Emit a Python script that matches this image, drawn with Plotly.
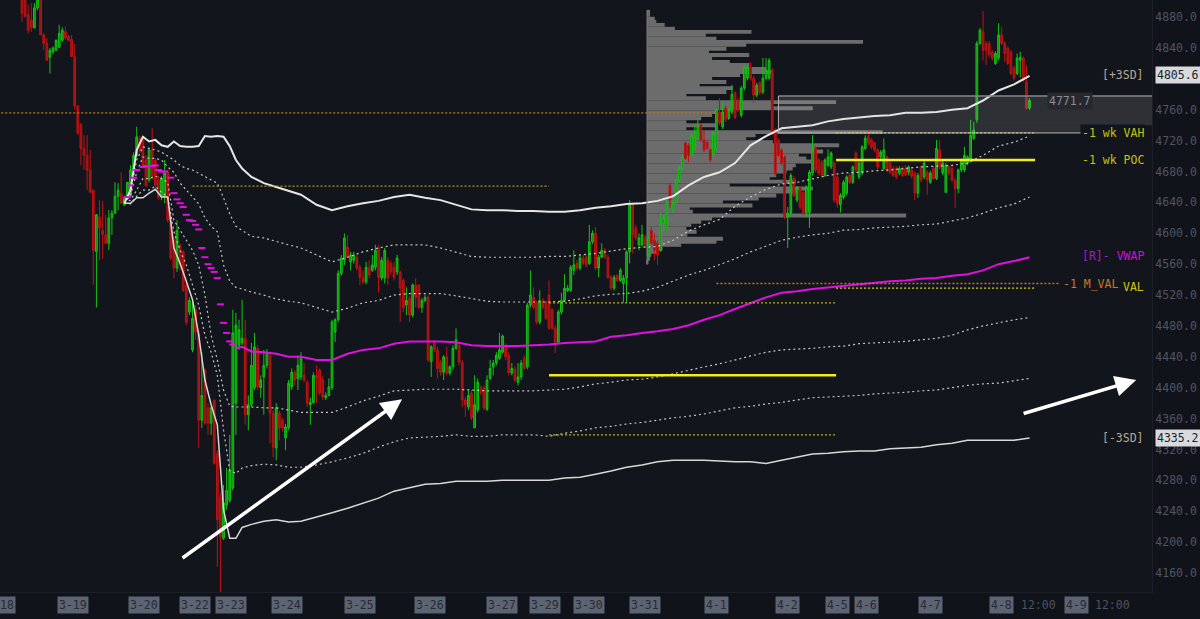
import plotly.graph_objects as go

# hourly candles (bar 0 is the first one on screen)
opens = [4902,4902,4883,4876,4866,4892,4905,4857,4846,4828,4835,4837,4841,4850,4861,4855,4851,4829,4765,4741,
4710,4701,4682,4656,4576,4621,4604,4598,4587,4620,4626,4648,4652,4637,4647,4649,4682,4701,4723,4721,
4695,4669,4708,4695,4669,4647,4647,4679,4620,4591,4555,4585,4576,4533,4498,4449,4501,4471,4358,4423,
4374,4354,4384,4315,4258,4205,4248,4254,4270,4380,4455,4458,4464,4365,4378,4400,4451,4400,4414,4429,
4442,4367,4322,4367,4358,4335,4348,4401,4420,4412,4414,4416,4407,4378,4381,4416,4423,4410,4387,4390,
4400,4472,4488,4548,4565,4582,4563,4565,4569,4556,4543,4537,4556,4552,4556,4581,4542,4542,4565,4561,
4556,4550,4550,4539,4507,4516,4494,4533,4533,4504,4513,4517,4434,4458,4449,4433,4420,4440,4419,4427,
4451,4455,4433,4384,4375,4393,4348,4371,4400,4400,4372,4412,4427,4432,4438,4446,4455,4442,4419,4424,
4407,4414,4438,4427,4507,4517,4510,4485,4513,4511,4520,4501,4477,4459,4498,4513,4526,4526,4552,4561,
4555,4568,4569,4561,4589,4600,4555,4569,4578,4569,4543,4529,4545,4539,4535,4542,4576,4637,4607,4585,
4585,4594,4572,4604,4591,4587,4578,4613,4604,4662,4630,4640,4669,4684,4717,4714,4701,4710,4723,4740,
4721,4718,4708,4701,4710,4757,4738,4762,4749,4757,4782,4772,4753,4788,4801,4815,4801,4779,4795,4783,
4801,4801,4811,4734,4721,4708,4699,4621,4626,4671,4643,4659,4653,4627,4627,4678,4710,4695,4692,4675,
4688,4686,4691,4673,4637,4647,4652,4675,4666,4704,4673,4678,4710,4725,4721,4717,4708,4699,4684,4699,
4691,4684,4684,4678,4684,4684,4679,4682,4678,4652,4686,4673,4679,4666,4684,4671,4708,4678,4653,4686,
4684,4669,4658,4682,4682,4691,4695,4723,4747,4846,4861,4846,4846,4835,4820,4827,4857,4846,4840,4835,
4814,4807,4824,4827,4796,4762]
highs = [4915,4908,4896,4898,4898,4912,4908,4859,4853,4840,4842,4851,4870,4867,4868,4857,4857,4845,4766,4743,
4727,4727,4708,4656,4625,4643,4642,4624,4630,4630,4666,4665,4679,4649,4666,4688,4705,4738,4726,4723,
4701,4710,4736,4697,4675,4674,4695,4682,4624,4596,4617,4587,4578,4539,4517,4513,4507,4475,4446,4425,
4380,4376,4384,4319,4264,4274,4296,4339,4501,4497,4488,4514,4488,4390,4458,4471,4455,4416,4449,4450,
4446,4371,4380,4370,4361,4353,4410,4425,4423,4442,4446,4432,4410,4387,4420,4429,4425,4415,4394,4412,
4488,4490,4552,4572,4600,4598,4576,4576,4572,4559,4552,4563,4565,4572,4585,4585,4569,4581,4569,4565,
4563,4572,4552,4542,4530,4519,4535,4542,4534,4516,4520,4520,4455,4462,4453,4436,4442,4453,4429,4455,
4477,4459,4436,4388,4397,4397,4416,4412,4403,4403,4416,4436,4436,4446,4471,4469,4458,4446,4432,4428,
4432,4436,4442,4510,4552,4530,4513,4526,4516,4513,4539,4503,4481,4501,4523,4547,4533,4559,4578,4565,
4572,4572,4572,4611,4604,4608,4572,4587,4581,4572,4546,4546,4547,4555,4546,4578,4643,4639,4611,4600,
4611,4598,4598,4608,4600,4591,4626,4624,4643,4665,4643,4671,4688,4701,4719,4717,4730,4740,4750,4743,
4734,4721,4710,4732,4762,4775,4769,4765,4762,4792,4784,4775,4791,4818,4818,4822,4804,4795,4797,4827,
4827,4827,4814,4736,4723,4710,4701,4634,4678,4674,4661,4661,4656,4662,4682,4727,4713,4697,4695,4697,
4709,4706,4694,4675,4652,4669,4675,4678,4688,4706,4694,4714,4727,4734,4723,4719,4710,4708,4723,4701,
4694,4687,4687,4687,4687,4688,4688,4684,4680,4678,4688,4694,4682,4681,4687,4721,4721,4694,4691,4688,
4687,4671,4684,4697,4712,4701,4747,4744,4849,4866,4888,4849,4849,4837,4836,4872,4867,4849,4842,4837,
4817,4833,4835,4829,4818,4775]
lows = [4874,4880,4859,4861,4866,4889,4857,4837,4824,4807,4832,4837,4840,4848,4851,4849,4828,4760,4727,4688,
4682,4656,4653,4533,4504,4565,4567,4587,4578,4598,4626,4630,4638,4635,4643,4647,4679,4699,4704,4684,
4660,4666,4669,4660,4643,4643,4639,4614,4565,4542,4550,4552,4524,4481,4494,4446,4462,4322,4348,4352,
4339,4339,4300,4168,4135,4203,4242,4251,4267,4339,4449,4455,4352,4345,4375,4397,4397,4387,4365,4425,
4328,4310,4306,4332,4343,4319,4345,4397,4403,4397,4410,4407,4375,4352,4379,4380,4390,4384,4384,4389,
4397,4459,4485,4545,4559,4568,4552,4561,4552,4533,4534,4534,4542,4550,4552,4523,4539,4535,4533,4546,
4539,4546,4485,4498,4494,4485,4491,4504,4502,4497,4511,4433,4414,4446,4412,4416,4410,4416,4416,4423,
4449,4429,4375,4362,4371,4358,4348,4368,4390,4371,4370,4410,4416,4429,4436,4444,4436,4416,4416,4407,
4403,4410,4423,4424,4504,4502,4482,4482,4502,4488,4475,4475,4445,4457,4495,4511,4524,4524,4546,4552,
4552,4559,4556,4559,4586,4552,4543,4568,4567,4541,4526,4526,4537,4537,4510,4510,4561,4574,4591,4578,
4582,4581,4569,4585,4565,4559,4576,4602,4602,4633,4627,4638,4666,4682,4695,4692,4699,4708,4721,4718,
4705,4708,4692,4699,4708,4740,4735,4744,4747,4754,4748,4757,4750,4785,4798,4798,4769,4776,4779,4780,
4798,4798,4727,4675,4699,4688,4618,4581,4624,4647,4640,4631,4624,4621,4607,4675,4679,4675,4673,4673,
4686,4683,4640,4633,4627,4644,4649,4664,4664,4679,4670,4675,4708,4714,4709,4705,4683,4696,4682,4679,
4677,4673,4670,4675,4673,4674,4675,4671,4643,4646,4666,4670,4650,4664,4669,4669,4683,4675,4653,4675,
4666,4633,4652,4679,4679,4688,4692,4721,4743,4844,4824,4818,4828,4824,4818,4824,4844,4822,4818,4805,
4798,4805,4802,4796,4760,4760]
closes = [4885,4881,4863,4867,4892,4902,4857,4846,4824,4837,4840,4850,4859,4863,4853,4850,4829,4765,4730,4710,
4701,4682,4653,4578,4624,4607,4598,4587,4620,4626,4648,4656,4639,4646,4666,4682,4701,4725,4708,4688,
4662,4708,4675,4662,4647,4671,4678,4617,4568,4555,4604,4559,4526,4485,4513,4490,4472,4358,4390,4354,
4354,4374,4302,4229,4207,4251,4267,4293,4471,4481,4475,4464,4365,4378,4429,4453,4401,4410,4429,4446,
4367,4323,4374,4348,4348,4349,4406,4420,4410,4429,4438,4410,4380,4381,4416,4412,4393,4388,4390,4401,
4485,4488,4548,4568,4594,4569,4572,4572,4555,4543,4537,4556,4546,4559,4578,4543,4565,4578,4542,4550,
4543,4568,4529,4504,4513,4494,4533,4517,4504,4513,4517,4436,4453,4449,4425,4420,4440,4419,4427,4451,
4462,4433,4384,4378,4390,4361,4378,4407,4393,4374,4410,4425,4432,4442,4449,4467,4440,4419,4425,4410,
4414,4432,4425,4507,4520,4504,4485,4513,4504,4490,4477,4477,4459,4498,4513,4529,4529,4556,4559,4555,
4568,4561,4559,4589,4600,4555,4569,4578,4569,4543,4529,4543,4539,4552,4542,4576,4637,4598,4594,4594,
4598,4585,4595,4587,4578,4572,4613,4620,4639,4643,4640,4669,4684,4699,4697,4701,4727,4725,4738,4721,
4708,4710,4695,4730,4760,4743,4757,4747,4760,4780,4750,4760,4788,4815,4815,4801,4779,4792,4782,4801,
4811,4824,4730,4678,4701,4691,4621,4626,4675,4649,4659,4634,4626,4660,4679,4708,4682,4678,4675,4695,
4699,4704,4643,4639,4649,4666,4673,4666,4686,4682,4691,4712,4723,4717,4712,4708,4686,4705,4708,4682,
4679,4675,4673,4684,4675,4676,4686,4674,4652,4675,4669,4691,4669,4678,4671,4710,4686,4691,4688,4678,
4669,4658,4682,4695,4701,4699,4727,4734,4846,4863,4837,4837,4831,4827,4833,4857,4846,4833,4820,4807,
4801,4827,4828,4798,4762,4772]

# bands are sampled at these bars
band_bars = [33,35,37,39,41,43,45,47,49,51,53,55,57,59,61,63,65,67,69,71,
74,78,82,86,90,95,100,105,110,115,120,125,130,135,140,145,150,155,160,165,
170,175,180,185,190,195,200,205,210,215,220,225,230,235,240,245,250,255,260,265,
270,275,280,285,290,295,300,305,310,315,320,325]
plus3 = [4639,4656,4708,4725,4719,4721,4714,4712,4719,4713,4712,4712,4713,4726,4725,4726,4725,4713,4695,4684,
4673,4665,4660,4655,4650,4637,4630,4635,4639,4642,4647,4650,4646,4643,4637,4631,4630,4630,4629,4629,
4628,4628,4630,4633,4635,4638,4639,4642,4648,4662,4673,4679,4691,4714,4726,4736,4738,4740,4745,4748,
4750,4752,4753,4756,4756,4757,4760,4762,4772,4785,4793,4804]
plus2 = [4639,4653,4695,4712,4710,4708,4705,4700,4695,4688,4684,4682,4678,4674,4669,4665,4646,4625,4609,4604,
4596,4594,4589,4585,4581,4572,4563,4569,4576,4581,4585,4585,4585,4581,4576,4570,4569,4569,4569,4569,
4570,4570,4572,4574,4577,4580,4582,4583,4591,4603,4611,4618,4635,4647,4657,4664,4666,4671,4675,4678,
4679,4681,4682,4684,4686,4687,4688,4691,4701,4713,4718,4726]
plus1 = [4639,4649,4679,4699,4697,4697,4695,4686,4679,4665,4656,4647,4638,4620,4609,4602,4559,4538,4530,4528,
4524,4520,4515,4512,4510,4504,4498,4503,4510,4513,4520,4522,4522,4522,4519,4515,4512,4511,4511,4511,
4511,4512,4515,4519,4521,4522,4525,4530,4538,4546,4552,4559,4567,4576,4583,4591,4595,4598,4600,4604,
4605,4607,4608,4609,4611,4612,4616,4620,4626,4633,4638,4647]
minus1 = [4639,4643,4656,4671,4671,4674,4671,4666,4617,4604,4591,4578,4559,4520,4468,4436,4397,4376,4375,4375,
4375,4374,4374,4371,4368,4368,4368,4375,4383,4389,4396,4397,4398,4398,4398,4397,4396,4396,4396,4396,
4397,4398,4401,4405,4407,4410,4411,4414,4418,4423,4427,4431,4436,4441,4446,4449,4450,4451,4453,4454,
4457,4458,4459,4460,4462,4464,4468,4475,4480,4484,4488,4491]
minus2 = [4639,4638,4648,4656,4656,4661,4653,4647,4602,4578,4559,4533,4507,4468,4446,4416,4345,4293,4289,4296,
4299,4301,4300,4297,4297,4300,4304,4309,4315,4323,4330,4335,4336,4337,4339,4337,4337,4339,4339,4339,
4337,4341,4344,4348,4350,4353,4355,4358,4361,4363,4366,4370,4374,4376,4379,4381,4384,4387,4388,4389,
4390,4392,4393,4394,4396,4397,4400,4403,4405,4406,4409,4412]
minus3 = [4639,4639,4646,4646,4652,4657,4647,4647,4581,4561,4538,4514,4468,4410,4378,4352,4242,4205,4205,4219,
4223,4227,4229,4226,4227,4232,4238,4244,4251,4257,4266,4271,4275,4276,4279,4279,4279,4280,4280,4280,
4280,4283,4284,4288,4292,4297,4300,4304,4306,4306,4306,4305,4304,4304,4302,4306,4310,4314,4315,4317,
4318,4318,4321,4322,4323,4326,4328,4332,4332,4332,4332,4335]

# vwap is solid from bar 69, before that only little ticks
vwap = [4451,4453,4447,4446,4444,4440,4440,4436,4436,4444,4449,4451,4457,4460,4460,4460,4459,4455,4454,4454,
4454,4455,4456,4458,4459,4460,4466,4468,4471,4473,4476,4481,4488,4494,4502,4510,4517,4523,4525,4528,
4530,4532,4534,4536,4538,4539,4541,4542,4545,4547,4552,4560,4564,4569]
vwap_tick_bars = [34,35,36,37,39,40,42,43,44,45,46,48,49,50,51,52,53,54,55,56,57,58,59,60,61,62,63,64,65,66,67,68]
vwap_ticks = [4647,4662,4672,4682,4686,4687,4687,4688,4682,4680,4680,4672,4652,4644,4639,4634,4624,4617,4616,4611,
4605,4581,4569,4560,4555,4550,4542,4508,4484,4471,4460,4456]

# volume profile of the week
profile_prices = [4887,4883,4878,4874,4870,4865,4861,4857,4852,4848,4844,4839,4835,4831,4826,4822,4818,4813,4809,4805,
4801,4796,4792,4788,4783,4779,4775,4770,4766,4762,4757,4753,4749,4744,4740,4736,4731,4727,4723,4718,
4714,4710,4706,4701,4697,4693,4688,4684,4680,4675,4671,4667,4662,4658,4654,4649,4645,4641,4636,4632,
4628,4623,4619,4615,4611,4606,4602,4598,4593,4589,4585,4580,4576,4572,4567,4563]
profile_vol = [1,1,2.5,3,5.7,9,33.7,19,22.4,69.7,32,25.6,20,33,21,26.7,33,38.5,40.6,30,
21,25.6,17,27.7,25.6,12.7,19,61,40.6,53.5,22.4,21,17.5,12.7,22.4,12.7,76,35,32,40.6,
62,54.6,56.8,49,51.4,53,48,47,45,41.7,39.6,48,26.7,53.5,48,41.7,36,24.5,34,13.8,
14.8,83.6,21,17.5,14.3,12.7,16,13,24.5,22.4,11,5,3,1.4,1,0.5]
profile_start = 201.6

# x labels
date_labels = ["18","3-19","3-20","3-22","3-23","3-24","3-25","3-26","3-27","3-29","3-30","3-31","4-1","4-2","4-5","4-6","4-7","4-8","4-9"]
date_bars = [-4.8,16.5,39.4,55.8,67.4,85.5,109,131.6,154.8,168.7,182.9,201,223.9,247,263.2,272.3,293.2,316.1,340]
hour_labels = ["12:00","12:00"]
hour_bars = [328,351.9]
y_ticks = [4160,4200,4240,4280,4320,4360,4400,4440,4480,4520,4560,4600,4640,4680,4720,4760,4840,4880]

# levels: price, first bar, last bar, colour, dash, width
levels = [
    (4756, -8, 224, "#c07422", "2px,2px", 1.3),
    (4661, 55, 170, "#a89e18", "2px,2px", 1.3),
    (4510, 170, 262.6, "#b8b01a", "2px,2px", 1.3),
    (4339, 170, 262.6, "#b8b01a", "2px,2px", 1.3),
    (4416, 170, 262.6, "#f2ee1a", "solid", 2.5),
    (4730, 262.6, 326.8, "#d8d41c", "2px,2px", 1.3),
    (4695, 262.6, 326.8, "#f2ee1a", "solid", 2.5),
    (4529, 262.6, 326.8, "#d8d41c", "2px,2px", 1.3),
    (4535, 224, 335, "#c07422", "2px,2px", 1.3),
]

BG = "#13151c"
MONO = "DejaVu Sans Mono"
bars = list(range(len(closes)))

fig = go.Figure()

# a bit wider than the bin step so no dark seams show between the bars
fig.add_trace(go.Bar(y=profile_prices, x=profile_vol, base=[profile_start] * len(profile_vol),
                     orientation="h", width=5,
                     marker=dict(color="#6c6c6c", line=dict(width=0))))

fig.add_trace(go.Candlestick(x=bars, open=opens, high=highs, low=lows, close=closes,
                             whiskerwidth=0,
                             increasing=dict(line=dict(color="#12c412", width=1), fillcolor="#0f8c12"),
                             decreasing=dict(line=dict(color="#c01212", width=1), fillcolor="#8c1616")))

def band(vals, color, width, dash="solid"):
    fig.add_trace(go.Scatter(x=band_bars, y=vals, mode="lines",
                             line=dict(color=color, width=width, dash=dash)))

band(plus2, "#c4c4c4", 1.2, "2px,3px")
band(plus1, "#c4c4c4", 1.2, "2px,3px")
band(minus1, "#c4c4c4", 1.2, "2px,3px")
band(minus2, "#c4c4c4", 1.2, "2px,3px")
band(plus3, "#e6e6e6", 2)
band(minus3, "#d8d8d8", 1.5)

fig.add_trace(go.Scatter(x=band_bars[18:], y=vwap, mode="lines", line=dict(color="#e010e0", width=2)))
fig.add_trace(go.Scatter(x=vwap_tick_bars, y=vwap_ticks, mode="markers",
                         marker=dict(symbol="line-ew", size=5, line=dict(color="#e010e0", width=2))))

shapes = []
for price, b0, b1, color, dash, width in levels:
    shapes.append(dict(type="line", xref="x", yref="y", x0=b0, x1=b1, y0=price, y1=price,
                       line=dict(color=color, dash=dash, width=width)))
# grey value area box, stops short under the VAH label
shapes.append(dict(type="rect", xref="x", yref="y", x0=244, x1=364.5, y0=4740, y1=4778,
                   fillcolor="rgba(210,210,215,0.14)", line=dict(width=0)))
shapes.append(dict(type="rect", xref="x", yref="y", x0=244, x1=342, y0=4730, y1=4740,
                   fillcolor="rgba(210,210,215,0.14)", line=dict(width=0)))
shapes.append(dict(type="line", xref="x", yref="y", x0=244, x1=364.5, y0=4778, y1=4778,
                   line=dict(color="#85878c", width=1.5)))
shapes.append(dict(type="line", xref="x", yref="y", x0=244, x1=244, y0=4730, y1=4778,
                   line=dict(color="#b0b0b0", width=1)))
shapes.append(dict(type="line", xref="x", yref="y", x0=244, x1=342, y0=4730, y1=4730,
                   line=dict(color="#b8b8b8", width=1)))
shapes.append(dict(type="line", xref="x", yref="y", x0=profile_start, x1=profile_start, y0=4559, y1=4889,
                   line=dict(color="#7a7a7a", width=1)))

annotations = []
for lab, b in zip(date_labels, date_bars):
    annotations.append(dict(text=lab, xref="x", yref="paper", x=b, y=-0.0225, yanchor="middle", showarrow=False,
                            bgcolor="#5c6372", borderpad=1, font=dict(family=MONO, size=11.5, color="#272b34")))
for lab, b in zip(hour_labels, hour_bars):
    annotations.append(dict(text=lab, xref="x", yref="paper", x=b, y=-0.0225, yanchor="middle", showarrow=False,
                            font=dict(family=MONO, size=11.5, color="#4c5260")))

def label(text, px, price, color, anchor="right", bg=None, size=11.5):
    annotations.append(dict(text=text, xref="paper", yref="y", x=px / 1152, y=price, xanchor=anchor,
                            yanchor="middle", showarrow=False, bgcolor=bg, borderpad=1,
                            font=dict(family=MONO, size=size, color=color)))

label("[+3SD]", 1146, 4805, "#b8a88e")
label("[-3SD]", 1146, 4335, "#b8a88e")
label("4805.6", 1155, 4805.6, "#20242a", "left", "#d8dadd")
label("4335.2", 1155, 4335.2, "#20242a", "left", "#d8dadd")
label("4771.7", 1047, 4771, "#8a8d92", "left", "#26282d")
label("-1 wk VAH", 1146, 4730, "#c4c414", bg=BG)
label("-1 wk POC", 1146, 4695, "#c4c414")
label("<span style='color:#a020c0'>[R]-</span> VWAP", 1146, 4570, "#d010d0")
label("-1 M_VAL", 1061, 4534, "#c8781e", "left")
label("VAL", 1146, 4530, "#d0c814")

# the two hand drawn arrows
annotations.append(dict(text="", xref="x", yref="y", axref="x", ayref="y", x=122.6, y=4385, ax=51.3, ay=4178,
                        showarrow=True, arrowhead=2, arrowsize=1.2, arrowwidth=3.5, arrowcolor="#ffffff"))
annotations.append(dict(text="", xref="x", yref="y", axref="x", ayref="y", x=359.4, y=4410, ax=322.6, ay=4366,
                        showarrow=True, arrowhead=2, arrowsize=1.2, arrowwidth=3.5, arrowcolor="#ffffff"))

fig.update_layout(
    width=1200, height=619,
    margin=dict(l=0, r=48, t=0, b=27),
    paper_bgcolor="#11131a", plot_bgcolor=BG,
    showlegend=False, hovermode=False, boxgap=0.2,
    shapes=shapes, annotations=annotations,
    xaxis=dict(range=[-7.1, 364.5], showgrid=False, zeroline=False, showticklabels=False,
               rangeslider=dict(visible=False), showline=True, linecolor="#1c1f27", linewidth=1),
    yaxis=dict(range=[4135.4, 4902.2], side="right", showgrid=False, zeroline=False,
               tickvals=y_ticks, ticktext=["%.1f" % t for t in y_ticks], ticks="",
               tickfont=dict(family=MONO, size=11.5, color="#4f5562"),
               showline=True, linecolor="#1c1f27", linewidth=1),
)

fig.write_html("out.html", config={"displayModeBar": False},
               post_script="document.body.style.margin='0';document.body.style.background='#11131a';")
